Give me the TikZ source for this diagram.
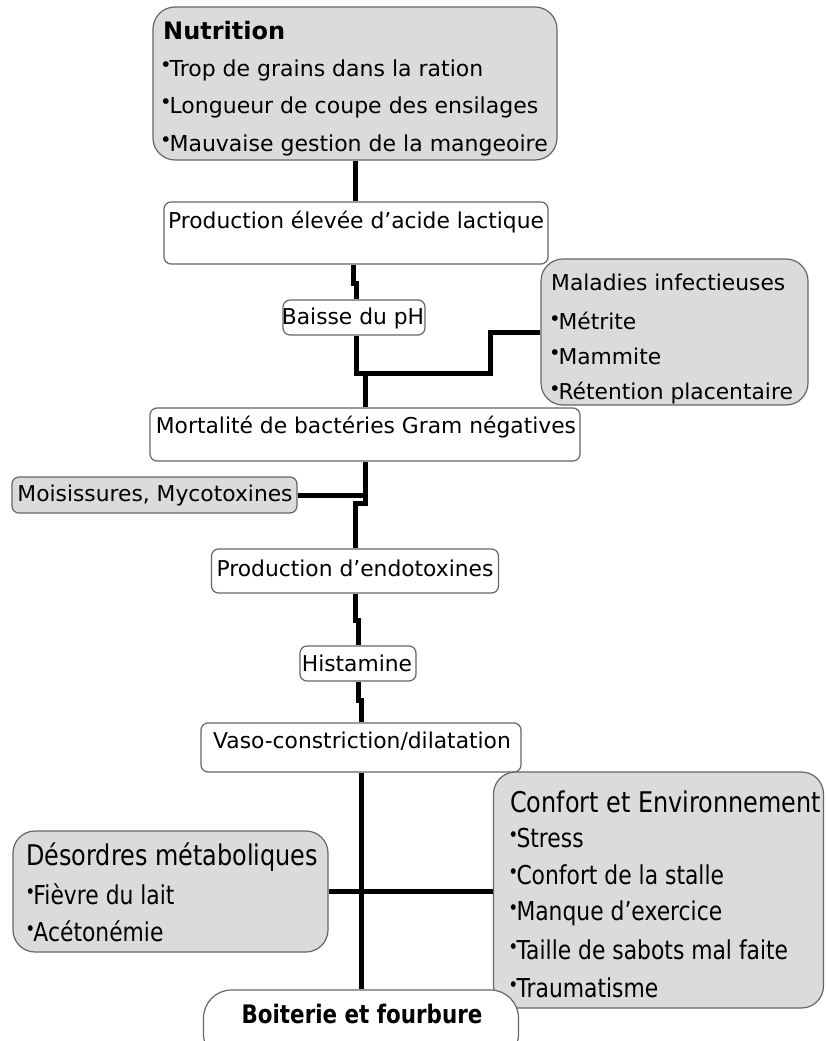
\documentclass[tikz,border=0pt]{standalone}
\usepackage{fontspec}
\setmainfont{DejaVu Sans}
\newfontfamily\condfont[FakeStretch=0.84]{DejaVu Sans}
\usetikzlibrary{backgrounds}
\newcommand{\bul}{\raisebox{0.42em}{\fontsize{7.5pt}{7.5pt}\selectfont\kern-0.6pt●\kern0.4pt}}
\tikzset{
  box/.style={draw=black!60, line width=1.2pt, rectangle, rounded corners=7pt, fill=white, inner sep=0pt},
  graybox/.style={box, fill=gray!28},
  bigbox/.style={graybox, rounded corners=22pt},
  conn/.style={line width=5pt, line join=miter},
  txt/.style={inner sep=0pt, font=\fontsize{21.8pt}{26pt}\selectfont},
  btxt/.style={inner sep=0pt, anchor=west, font=\fontsize{22pt}{26pt}\selectfont},
  ltxt/.style={txt, anchor=west},
  ctxt/.style={inner sep=0pt, anchor=west, font=\condfont\fontsize{26pt}{30pt}\selectfont},
  cttl/.style={ctxt, font=\condfont\fontsize{28.5pt}{32pt}\selectfont},
}
\begin{document}
\begin{tikzpicture}[x=1pt,y=-1pt]
\useasboundingbox (0,0) rectangle (825,1041);
% boxes
\node[bigbox, minimum width=404pt, minimum height=153pt] (nut) at (355,83.5) {};
\node[box, minimum width=384pt, minimum height=62pt] (prod) at (356,233) {};
\node[box, minimum width=142pt, minimum height=35pt] (baisse) at (354,317.5) {};
\node[bigbox, minimum width=267pt, minimum height=146pt] (mal) at (674.5,332) {};
\node[box, minimum width=430pt, minimum height=53pt] (mort) at (365,434.5) {};
\node[graybox, minimum width=285pt, minimum height=36pt] (mois) at (154.5,495) {};
\node[box, minimum width=287pt, minimum height=44pt] (endo) at (355,571) {};
\node[box, minimum width=116pt, minimum height=35pt] (hist) at (358,663.5) {};
\node[box, minimum width=320pt, minimum height=49pt] (vaso) at (361,747.5) {};
\node[bigbox, minimum width=315pt, minimum height=121pt] (des) at (170.5,891.5) {};
\node[bigbox, minimum width=330pt, minimum height=236pt] (conf) at (658.5,890) {};
\node[box, fill=white, rounded corners=28pt, minimum width=315pt, minimum height=72pt] (boit) at (361,1026) {};
% texts
\node[ltxt, font=\fontsize{24pt}{26pt}\selectfont\bfseries] (tnut) at (163,31) {Nutrition};
\node[btxt] (n1) at (163,70) {\bul Trop de grains dans la ration};
\node[btxt] (n2) at (163,107) {\bul Longueur de coupe des ensilages};
\node[btxt] (n3) at (163,145) {\bul Mauvaise gestion de la mangeoire};
\node[txt] (tprod) at (356,222) {Production élevée d’acide lactique};
\node[txt] (tbaisse) at (353,318) {Baisse du pH};
\node[ltxt] (tmal) at (551,282) {Maladies infectieuses};
\node[ltxt] (m1) at (552,321) {\bul Métrite};
\node[ltxt] (m2) at (552,356) {\bul Mammite};
\node[ltxt] (m3) at (552,393) {\bul Rétention placentaire};
\node[txt] (tmort) at (366,427) {Mortalité de bactéries Gram négatives};
\node[txt] (tmois) at (155,495) {Moisissures, Mycotoxines};
\node[txt] (tendo) at (355,568) {Production d’endotoxines};
\node[txt] (thist) at (357,663) {Histamine};
\node[txt] (tvaso) at (362,741) {Vaso-constriction/dilatation};
\node[cttl] (tdes) at (26,857) {Désordres métaboliques};
\node[ctxt] (d1) at (28,894) {\bul Fièvre du lait};
\node[ctxt] (d2) at (28,931) {\bul Acétonémie};
\node[cttl] (tconf) at (510,802) {Confort et Environnement};
\node[ctxt] (c1) at (511,838) {\bul Stress};
\node[ctxt] (c2) at (511,875) {\bul Confort de la stalle};
\node[ctxt] (c3) at (511,913) {\bul Manque d’exercice};
\node[ctxt] (c4) at (511,950) {\bul Taille de sabots mal faite};
\node[ctxt] (c5) at (511,988) {\bul Traumatisme};
\node[inner sep=0pt, font=\condfont\fontsize{25.5pt}{30pt}\selectfont\bfseries] (tboit) at (362,1014) {Boiterie et fourbure};
% connectors
\begin{scope}[on background layer]
\draw[conn] (nut.south) -- (nut.south |- prod.north);
\draw[conn] (prod.south -| 353,0) -- ++(0,19) -- ++(3,0) -- (baisse.north -| 356,0);
\coordinate (j1) at (356,373);
\draw[conn] (baisse.south -| j1) -- (j1) -- ++(134,0) |- (mal.west);
\draw[conn] (mort.north |- j1) -- (mort.north);
\coordinate (j2) at (365,495);
\draw[conn] (mois.east) -- (j2);
\draw[conn] (mort.south) -- ++(0,42) -- ++(-10,0) -- (endo.north);
\draw[conn] (endo.south) -- ++(0,27) -- ++(3,0) -- (hist.north);
\draw[conn] (hist.south) -- ++(0,19) -- ++(3,0) -- (vaso.north);
\draw[conn] (vaso.south) -- (boit.north);
\draw[conn] (des.east) -- (conf.west |- des.east);
\end{scope}
\end{tikzpicture}
\end{document}
